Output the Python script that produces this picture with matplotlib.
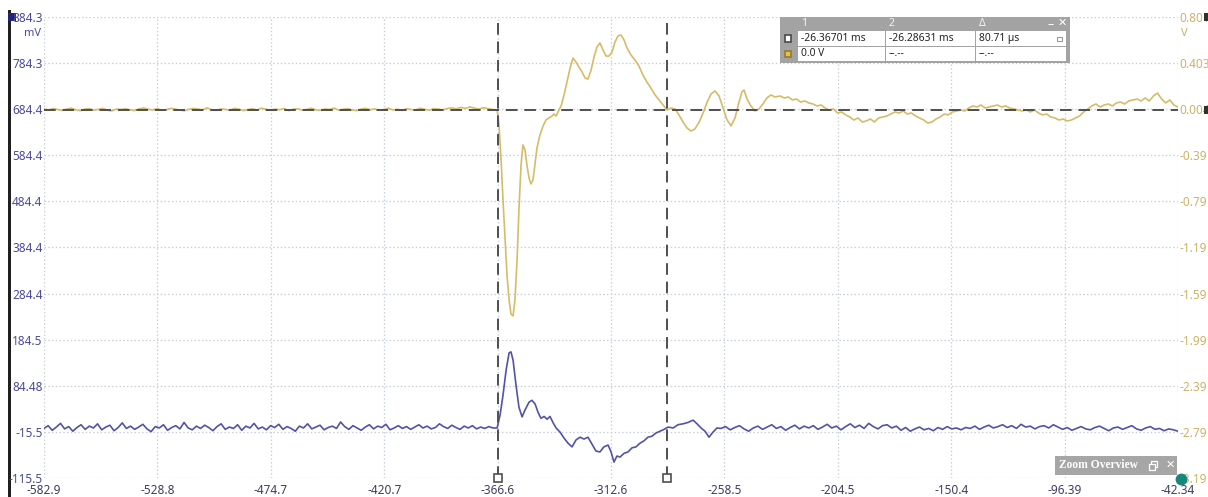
import numpy as np
import matplotlib
matplotlib.use("Agg")
import matplotlib.pyplot as plt
from matplotlib.patches import Rectangle

# ---- data: channel A (mV, blue) and channel B (V, yellow), time in µs ----
T_START, T_END = -582.9, -42.34
T_CURSOR1, T_CURSOR2 = -366.6, -285.9

blue_pre_mv = [
    -8, -2, -12, -5, 3, -9, -4, -14, -6, 0,
    -10, -3, -7, 2, -11, -5, -1, -13, -6, 4,
    -8, -3, -10, -5, 1, -9, -15, -4, -7, 0,
    -12, -6, -2, -9, 5, -7, -11, -3, -8, -1,
    -6, -13, -4, 2, -10, -5, -8, 0, -12, -3,
    -7, 3, -9, -5, -11, -2, -6, 1, -10, -4,
    -8, -14, -3, -7, 2, -9, -5, -1, -11, -6,
    -3, -8, 6, -4, -10, -2, -7, -12, -5, 0,
    -9, -3, -6, 1, -11, -7, -2, -8, -4, -10,
    -5, 0, -7, -3, -9, -6, 2, -4, -8, -1,
    -6, -10, -3, -7, -2, -9, -5, -8, -4, -7,
]
blue_event_t = [
    -366.9, -365.5, -364.1, -362.6, -361.2, -360.3, -359.3, -357.9, -356.5, -355.0,
    -353.6, -351.7, -350.3, -348.8, -347.4, -346.0, -344.5, -343.1, -341.7, -340.3,
    -338.8, -336.9, -335.0, -333.1, -331.2, -329.3, -327.4, -325.5, -323.6, -321.7,
    -319.8, -317.9, -316.0, -314.0, -312.6, -311.2, -309.8, -308.3, -306.4, -304.5,
    -302.6, -300.7, -298.8, -296.9, -295.0, -293.1, -291.2, -289.3, -287.3, -285.4,
    -283.0, -280.7, -278.3, -275.9, -273.5, -271.6, -269.7, -267.8, -265.9, -264.0,
    -262.1,
]
blue_event_mv = [
    -7, 21, 64, 119, 156, 158, 140, 86, 38, 17,
    32, 49, 53, 45, 27, 14, 18, 12, 18, 5,
    -7, -16, -29, -40, -48, -33, -27, -31, -27, -42,
    -57, -59, -48, -44, -59, -81, -68, -70, -62, -59,
    -50, -48, -40, -35, -27, -25, -18, -14, -10, -5,
    -7, 0, 2, 5, 10, 2, -7, -14, -27, -16,
    -7,
]
blue_post_mv = [
    -8, -4, -11, -6, -2, -9, -14, -7, -3, -10,
    -5, 0, -8, -4, -12, -6, -1, -9, -3, -7,
    -2, -10, -5, 1, -7, -3, -11, -4, 2, -6,
    -1, -8, 3, -4, -9, -2, 0, -7, -3, -12,
    -6, -14, -9, -5, -11, -8, -13, -6, -10, -4,
    -9, -7, -11, -6, -8, -3, -10, -5, -1, -7,
    -4, 0, -6, -2, -8, 1, -5, -3, -9, -4,
    -2, -7, 0, -5, -10, -6, -12, -8, -4, -9,
    -11, -6, -3, -8, -13, -7, -5, -10, -6, -2,
    -9, -12, -7, -4, -10, -8, -13, -9, -11, -14,
]

yellow_pre_v = [
    0.005, -0.004, 0.009, 0.000, -0.008, 0.004, 0.012, -0.002, -0.010, 0.003,
    0.008, -0.005, 0.001, 0.010, -0.006, -0.012, 0.004, 0.000, 0.007, -0.003,
    -0.009, 0.006, 0.013, 0.002, -0.004, 0.008, -0.007, -0.001, 0.011, 0.003,
    -0.005, -0.011, 0.002, 0.009, 0.004, -0.003, 0.015, -0.002, -0.008, 0.005,
    0.001, -0.006, 0.010, 0.003, -0.009, 0.000, 0.007, -0.004, 0.012, 0.002,
    -0.007, 0.004, -0.002, 0.009, -0.010, 0.003, 0.006, -0.005, 0.001, 0.011,
    -0.003, -0.008, 0.005, 0.000, 0.013, -0.006, 0.002, 0.008, -0.004, -0.010,
    0.004, 0.010, -0.002, 0.006, -0.007, 0.001, 0.012, -0.004, 0.003, -0.009,
    0.007, 0.000, -0.005, 0.011, 0.002, -0.006, 0.008, 0.004, -0.003, 0.009,
    0.014, 0.006, 0.018, 0.010, 0.022, 0.012, 0.004, 0.016, 0.008, 0.000,
]
yellow_event_t = [
    -366.9, -366.0, -365.0, -364.1, -363.1, -362.2, -361.2, -360.3, -359.3, -358.4,
    -357.4, -356.5, -355.5, -354.6, -353.6, -352.7, -351.7, -350.8, -349.8, -348.9,
    -347.9, -346.5, -345.0, -343.6, -342.2, -340.7, -339.8, -338.8, -337.9, -336.4,
    -335.0, -333.6, -332.1, -330.7, -329.3, -327.9, -326.4, -325.0, -323.6, -322.1,
    -320.7, -319.3, -317.9, -316.4, -315.0, -313.6, -312.1, -310.7, -309.3, -307.8,
    -306.4, -305.0, -303.1, -301.2, -299.3, -297.4, -295.5, -293.6, -291.6, -289.7,
    -287.8, -285.9, -284.0, -282.1, -280.2, -278.3, -276.4, -274.5, -272.6, -270.6,
    -268.7, -266.8, -264.9, -263.0, -261.1, -259.2, -257.3, -255.4, -253.5, -251.6,
    -250.2, -249.2, -247.8, -245.9, -244.0, -242.1, -240.2, -238.3, -236.4, -234.4,
]
yellow_event_v = [
    -0.004, -0.134, -0.437, -0.783, -1.129, -1.432, -1.648, -1.770, -1.787, -1.648,
    -1.302, -0.869, -0.480, -0.307, -0.350, -0.480, -0.592, -0.644, -0.610, -0.480,
    -0.333, -0.220, -0.142, -0.090, -0.073, -0.056, -0.039, -0.056, -0.021, 0.031,
    0.126, 0.238, 0.360, 0.446, 0.411, 0.368, 0.325, 0.273, 0.264, 0.342,
    0.455, 0.541, 0.576, 0.515, 0.463, 0.463, 0.498, 0.585, 0.637, 0.645,
    0.602, 0.533, 0.472, 0.429, 0.377, 0.299, 0.238, 0.186, 0.126, 0.083,
    0.039, -0.004, 0.013, 0.005, -0.047, -0.108, -0.160, -0.186, -0.168, -0.108,
    -0.030, 0.065, 0.135, 0.161, 0.117, 0.013, -0.090, -0.142, -0.073, 0.065,
    0.152, 0.169, 0.091, 0.031, -0.013, 0.005, 0.048, 0.100, 0.126, 0.109,
]
yellow_post_v = [
    0.117, 0.100, 0.109, 0.083, 0.091, 0.065, 0.074, 0.057,
    0.048, 0.031, 0.039, 0.013, -0.004, 0.005, -0.030, -0.021, -0.047, -0.065,
    -0.091, -0.073, -0.108, -0.099, -0.082, -0.108, -0.073, -0.065,
    -0.056, -0.039, -0.021, -0.030, -0.013, -0.039, -0.030, -0.056, -0.073, -0.091,
    -0.117, -0.108, -0.082, -0.065, -0.039, -0.047, -0.021, -0.013, -0.004, -0.013,
    0.013, 0.031, 0.022, 0.039, 0.013, 0.022, 0.031, 0.039, 0.022, 0.031, 0.013, 0.005, -0.004,
    -0.013, -0.004, -0.021, -0.004, -0.030, -0.047, -0.039, -0.065, -0.073, -0.091, -0.082, -0.099, -0.091,
    -0.073, -0.056, -0.021, 0.005, 0.031, 0.048, 0.022, 0.039,
    0.048, 0.031, 0.057, 0.065, 0.048, 0.074, 0.083, 0.091, 0.074,
    0.100, 0.074, 0.117, 0.143, 0.091, 0.057, 0.083, 0.039, 0.022,
]
T_BLUE_POST = -260.2
T_YELLOW_POST = -232.0

x_tick_labels = ["-582.9", "-528.8", "-474.7", "-420.7", "-366.6", "-312.6",
                 "-258.5", "-204.5", "-150.4", "-96.39", "-42.34"]
left_tick_labels = ["884.3", "784.3", "684.4", "584.4", "484.4", "384.4",
                    "284.4", "184.5", "84.48", "-15.5", "-115.5"]
right_tick_labels = ["0.801", "0.403", "0.004", "-0.39", "-0.79", "-1.19",
                     "-1.59", "-1.99", "-2.39", "-2.79", "-3.19"]
MV_TOP, MV_BOTTOM = 884.3, -115.5
V_TOP, V_BOTTOM = 0.801, -3.19

cursor_table = [["-26.36701 ms", "-26.28631 ms", "80.71 µs"],
                ["0.0 V", "--.--", "--.--"]]

# ---- styling ----
BLUE = "#5252aa"
YELLOW = "#d6bb68"
BLUE_TXT = "#4a4a9c"
YELLOW_TXT = "#cdb266"
GRID = "#c6cfdd"
CURSOR = "#4f4f4f"
FONT = "Noto Sans"

W, H = 1208, 497
fig = plt.figure(figsize=(W / 100, H / 100), dpi=100)
fig.patch.set_facecolor("white")


def fx(px):
    return px / W


def fy(py):
    return 1 - py / H


def fig_rect(x0, y0, x1, y1, **kw):
    # rectangle given in screen pixels (top-left origin)
    fig.add_artist(Rectangle((fx(x0), fy(y1)), fx(x1 - x0), fy(y0) - fy(y1),
                             transform=fig.transFigure, **kw))


L, R, T, B = 44, 1178, 17, 478
ax = fig.add_axes([fx(L), fy(B), fx(R - L), fy(T) - fy(B)])
ax2 = ax.twinx()
ax.set_zorder(ax2.get_zorder() + 1)
ax.patch.set_visible(False)

t_blue = np.concatenate([np.linspace(T_START, blue_event_t[0], len(blue_pre_mv), endpoint=False),
                         blue_event_t,
                         np.linspace(T_BLUE_POST, T_END, len(blue_post_mv))])
v_blue = np.concatenate([blue_pre_mv, blue_event_mv, blue_post_mv])
t_yel = np.concatenate([np.linspace(T_START, yellow_event_t[0], len(yellow_pre_v), endpoint=False),
                        yellow_event_t,
                        np.linspace(T_YELLOW_POST, T_END, len(yellow_post_v))])
v_yel = np.concatenate([yellow_pre_v, yellow_event_v, yellow_post_v])

ax.set_xlim(T_START, T_END)
ax.set_ylim(MV_BOTTOM, MV_TOP)
ax2.set_ylim(V_BOTTOM, V_TOP)

# dotted graticule
xt = np.linspace(T_START, T_END, len(x_tick_labels))
yt = np.linspace(MV_TOP, MV_BOTTOM, len(left_tick_labels))
yt2 = np.linspace(V_TOP, V_BOTTOM, len(right_tick_labels))
for x in xt:
    ax2.axvline(x, color=GRID, lw=0.9, ls=(0, (1.2, 1.8)), zorder=0)
for y in yt2:
    ax2.axhline(y, color=GRID, lw=0.9, ls=(0, (1.2, 1.8)), zorder=0)

ax2.plot(t_yel, v_yel, color=YELLOW, lw=1.2, zorder=3)
ax.plot(t_blue, v_blue, color=BLUE, lw=1.2, zorder=3)

# cursors
for tc in (T_CURSOR1, T_CURSOR2):
    ax.axvline(tc, color=CURSOR, lw=1.4, dashes=(6, 3.5), zorder=5)
ax2.axhline(0.0, color=CURSOR, lw=1.4, dashes=(6, 3.5), zorder=5)
ax.plot([T_CURSOR1, T_CURSOR2], [MV_BOTTOM, MV_BOTTOM], ls="none", marker="s",
        ms=6, mfc="white", mec=CURSOR, mew=1.2, clip_on=False, zorder=6)
# zoom overview handle
ax.plot([T_END + 1.5], [MV_BOTTOM - 2], ls="none", marker="o", ms=7.5, mfc="#15877e",
        mec="#15877e", clip_on=False, zorder=12)

for a in (ax, ax2):
    for s in a.spines.values():
        s.set_visible(False)
    a.tick_params(length=0)

ax.set_xticks(xt)
ax.set_xticklabels(x_tick_labels, fontsize=8.5, color="#3e3e5e", family=FONT)
ax.tick_params(axis="x", pad=4)
ax.set_yticks(yt)
ax.set_yticklabels(left_tick_labels, fontsize=8.5, color=BLUE_TXT, family=FONT)
ax.tick_params(axis="y", pad=1)
ax2.set_yticks(yt2)
ax2.set_yticklabels(right_tick_labels, fontsize=8.5, color=YELLOW_TXT, family=FONT)
ax2.tick_params(axis="y", pad=1)

# unit labels
fig.text(fx(41), fy(34), "mV", ha="right", va="center", fontsize=8, color=BLUE_TXT, family=FONT)
fig.text(fx(1181), fy(34), "V", ha="left", va="center", fontsize=8, color=YELLOW_TXT, family=FONT)

# channel A axis bar and markers
fig_rect(8, 10, 10.5, 497, color="#202020", lw=0)
fig_rect(8, 13, 16, 21, color="#23237a", lw=0)
for py in (17, 110):
    fig_rect(1204, py - 4, 1208, py + 4, color="#303030", lw=0)

# cursor measurement table
TX0, TX1, TY0, TY1 = 780, 1070, 17, 63
fig_rect(TX0, TY0, TX1, TY1, fc="#a3a3a3", ec="none", zorder=8)
cols = [797, 885, 975, 1066]
for r, (y0, y1) in enumerate([(31, 46), (47, 61)]):
    for c in range(3):
        fig_rect(cols[c] + 1, y0, cols[c + 1], y1, fc="white", ec="none", zorder=9)
        fig.text(fx(cols[c] + 4), fy((y0 + y1) / 2), cursor_table[r][c], fontsize=7.4,
                 color="#222222", va="center", family=FONT, zorder=10)
    yc = (y0 + y1) / 2
    fig_rect(785, yc - 3, 791, yc + 3, fc="white" if r == 0 else "#e0c060",
             ec="#4a4a4a" if r == 0 else "#9a7a20", lw=1.2, zorder=10)
for c, lab in enumerate(["1", "2", "Δ"]):
    fig.text(fx(cols[c] + 4), fy(24), lab, fontsize=7.5, color="#f4f4f4", va="center",
             family=FONT, zorder=10)
fig.text(fx(1051), fy(25), "–", fontsize=9, color="white", va="center", ha="center",
         fontweight="bold", family=FONT, zorder=10)
fig.text(fx(1062), fy(23), "✕", fontsize=8, color="white", va="center", ha="center",
         family="DejaVu Sans", zorder=10)
# lock icon in delta cell
fig_rect(1057, 37, 1062, 41, fc="none", ec="#9a9a9a", lw=0.8, zorder=10)

# zoom overview tab
fig_rect(1055, 456, 1177, 475, fc="#a6a6a6", ec="none", zorder=8)
fig.text(fx(1059), fy(465.5), "Zoom Overview", fontsize=8.3, color="white", va="center",
         fontweight="bold", family="Liberation Serif", zorder=9)
# restore icon drawn as two overlapping boxes
fig_rect(1151, 461, 1157, 467, fc="none", ec="white", lw=0.9, zorder=9)
fig_rect(1149, 464, 1155, 470, fc="#a6a6a6", ec="white", lw=0.9, zorder=10)
fig.text(fx(1170), fy(465), "✕", fontsize=8, color="white", va="center", ha="center",
         family="DejaVu Sans", zorder=9)

fig.savefig("out.png", dpi=100)
